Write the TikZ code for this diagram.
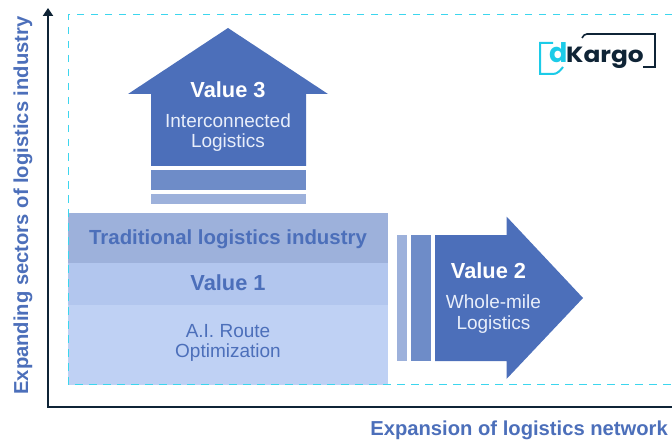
\documentclass[tikz,border=0pt]{standalone}
\usepackage{fontspec}
\setmainfont{Liberation Sans}
\newfontfamily\logofont[FakeStretch=1.13]{Poppins}
\newfontfamily\logodfont{Poppins}
\definecolor{bluemain}{HTML}{4C6FBA}
\definecolor{bluemid}{HTML}{6E8CC8}
\definecolor{bluelight}{HTML}{9DB1DB}
\definecolor{bandone}{HTML}{B2C6EE}
\definecolor{bandtwo}{HTML}{BFD1F4}
\definecolor{dashcyan}{HTML}{3CD6EE}
\definecolor{logocyan}{HTML}{1CCBE8}
\definecolor{axisdark}{HTML}{0F2436}
\definecolor{softwhite}{HTML}{E8EEFA}
\usetikzlibrary{arrows.meta}
\tikzset{
  axisline/.style={axisdark,line width=2pt},
  dashline/.style={dashcyan,line width=1.5pt,dash pattern=on 7.5pt off 6.5pt},
  titletext/.style={font=\bfseries\fontsize{21.8}{24}\selectfont,text=white,inner sep=0pt},
  bodytext/.style={font=\fontsize{19}{20.5}\selectfont,text=softwhite,align=center,inner sep=0pt},
  axistext/.style={font=\bfseries\fontsize{20.2}{22}\selectfont,text=bluemain,inner sep=0pt},
}
\begin{document}
\begin{tikzpicture}[x=1pt,y=-1pt]
\useasboundingbox (0,0) rectangle (672,441);
\coordinate (origin) at (48,407);
\coordinate (ytop) at (48,8);
\coordinate (xend) at (672,407);
\draw[axisline,-{Triangle[length=8pt,width=10pt]}] (origin) -- (ytop);
\draw[axisline] (47,407) -- (xend);
\fill[bluemain] (228,28) -- (328,94) -- (306,94) -- (306,166) -- (151,166) -- (151,94) -- (128,94) -- cycle;
\fill[bluemid] (151,170) rectangle (306,190);
\fill[bluelight] (151,194) rectangle (306,204);
\fill[bluelight] (68,213) rectangle (388,263);
\fill[bandone] (68,263) rectangle (388,305);
\fill[bandtwo] (68,305) rectangle (388,385);
\fill[bluelight] (397,235) rectangle (407,361);
\fill[bluemid] (411,235) rectangle (431,361);
\fill[bluemain] (435,235) -- (506.5,235) -- (506.5,216.5) -- (583,298) -- (506.5,379) -- (506.5,361) -- (435,361) -- cycle;
\draw[dashline] (672,14.5) -- (68.5,14.5) -- (68.5,384.5) -- (672,384.5);
\node[titletext] (v3) at (228,90) {Value 3};
\node[bodytext] (v3b) at (228,132.5) {Interconnected\\Logistics};
\node[titletext] (v2) at (488.5,271) {Value 2};
\node[bodytext] (v2b) at (493.5,314) {Whole-mile\\Logistics};
\node[font=\bfseries\fontsize{20.4}{22}\selectfont,text=bluemain,inner sep=0pt] (t) at (228,239) {Traditional logistics industry};
\node[font=\bfseries\fontsize{21.8}{24}\selectfont,text=bluemain,inner sep=0pt] (v1) at (228,283) {Value 1};
\node[font=\fontsize{19}{20.5}\selectfont,text=bluemain,align=center,inner sep=0pt] (v1b) at (228,343) {A.I. Route\\Optimization};
\node[axistext,rotate=90] (yl) at (23,205.5) {Expanding sectors of logistics industry};
\node[axistext,anchor=east] (xl) at (668,430.5) {Expansion of logistics network};
% logo
\draw[logocyan,line width=2pt] (553,43) -- (540,43) -- (540,74) -- (553,74) .. controls (557,74) and (560,71) .. (563,67);
\draw[axisdark,line width=1.6pt] (582,38) .. controls (583,35.5) and (585,34) .. (587,34) -- (655,34) -- (655,67) -- (643,67);
\node[font=\logodfont\bfseries\fontsize{27}{29}\selectfont,text=logocyan,inner sep=0pt,anchor=base west] (ld) at (549,63) {d};
\node[font=\logofont\bfseries\fontsize{22}{24}\selectfont,text=axisdark,inner sep=0pt,anchor=base west] (lk) at (566,63) {Kargo};
\end{tikzpicture}
\end{document}
